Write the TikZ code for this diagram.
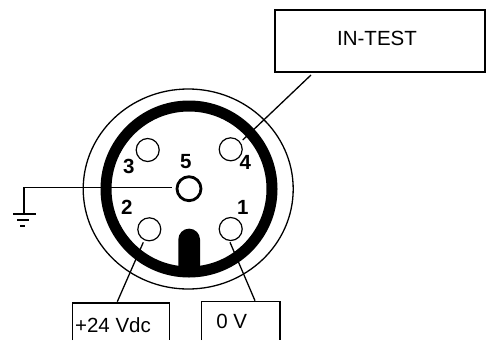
\documentclass[tikz,border=0pt]{standalone}
\usepackage{fontspec}
\setmainfont{Liberation Sans}
\begin{document}
\begin{tikzpicture}[x=1pt,y=-1pt,
  wire/.style={draw=black,line width=1.3pt},
  boxline/.style={draw=black,line width=1.3pt},
  pin/.style={circle,draw=black,line width=1.2pt,fill=white,minimum size=23pt,inner sep=0pt},
  centrepin/.style={circle,draw=black,line width=2.8pt,fill=white,minimum size=24pt,inner sep=0pt},
  lab/.style={inner sep=0pt,font=\fontsize{20.5pt}{22pt}\selectfont,text height=14.7pt,text depth=0pt},
  num/.style={lab,font=\fontsize{20.5pt}{22pt}\selectfont\bfseries}]
\useasboundingbox (0,0) rectangle (486,340);
% body
\coordinate (c) at (189,189);
\draw[line width=1.3pt] (188.2,189) ellipse [x radius=105,y radius=100];
\draw[line width=11pt] (c) circle [radius=83];
\fill[black] (178.3,275) -- (178.3,239.5) arc[start angle=180,end angle=360,radius=10.85] -- (200,275) -- cycle;
% pins
\node[pin] (p3) at (147.7,150) {};
\node[pin] (p4) at (230.7,149.3) {};
\node[pin] (p2) at (149.3,229.3) {};
\node[pin] (p1) at (230.7,229) {};
\node[centrepin] (p5) at (189,188.7) {};
% boxes
\node[boxline,rectangle,minimum width=210pt,minimum height=62pt,inner sep=0pt] (test) at (380,41) {};
\node[lab] at (377,38) {IN-TEST};
\draw[boxline] (72.7,340) -- (72.7,303) -- (169.3,303) -- (169.3,340);
\draw[boxline] (201.7,340) -- (201.7,301.7) -- (280,301.7) -- (280,340);
\node[lab] (vdc) at (113,325) {+24 Vdc};
\node[lab] (zero) at (231.7,321.5) {0 V};
% connector ends
\coordinate (t4) at (242.7,140);
\coordinate (t4b) at (311,75);
\coordinate (t2) at (143.3,242.3);
\coordinate (t2b) at (117.3,301.7);
\coordinate (t1) at (230,242.3);
\coordinate (t1b) at (255,300.7);
\coordinate (t5) at (171.7,187.7);
\coordinate (gc) at (24,187.7);
\coordinate (g) at (24,214);
\draw[wire] (t4b) -- (t4);
\draw[wire] (t2b) -- (t2);
\draw[wire] (t1b) -- (t1);
\draw[wire] (t5) -- (gc) -- (g);
% ground
\draw[line width=2pt] (13,214) -- (36,214);
\draw[line width=2pt] (17,219.5) -- (29,219.5);
\draw[line width=2pt] (20,225.5) -- (25,225.5);
% numbers
\node[num] at (185.7,160.7) {5};
\node[num] at (128.7,166) {3};
\node[num] at (245.3,162) {4};
\node[num] at (126.7,207.3) {2};
\node[num] at (242.7,207) {1};
\end{tikzpicture}
\end{document}
